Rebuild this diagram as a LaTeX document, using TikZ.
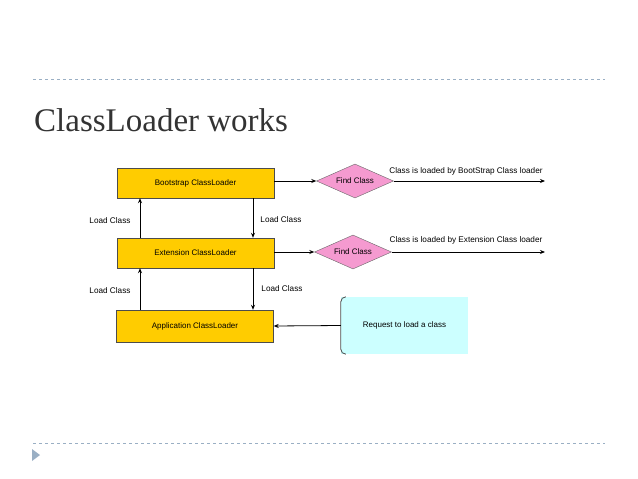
\documentclass[tikz,border=0pt]{standalone}
\usepackage{fontspec}
\setmainfont{Liberation Sans}
\newfontfamily\ttl{Liberation Serif}
\usetikzlibrary{shapes.geometric,arrows.meta}
\definecolor{gold}{HTML}{FFCC00}
\definecolor{pinkd}{HTML}{F59AD0}
\definecolor{cyanb}{HTML}{CCFFFF}
\definecolor{dashc}{HTML}{9AAFC4}
\tikzset{
 ldr/.style={draw=black!70,fill=gold,minimum width=157pt,minimum height=30pt,font=\fontsize{8}{9}\selectfont,inner sep=0},
 fc/.style={diamond,draw=black!60,fill=pinkd,aspect=2.1,minimum width=77pt,minimum height=34pt,inner sep=0,font=\fontsize{8}{9}\selectfont},
 lbl/.style={font=\fontsize{8.2}{9}\selectfont,inner sep=0},
 ar/.style={-{Stealth[length=5pt,width=4pt]},line width=0.8pt}
}
\begin{document}
\begin{tikzpicture}[x=1pt,y=-1pt]
\useasboundingbox (0,0) rectangle (638,479);
\draw[dashc,dashed,line width=0.7pt] (33,79) -- (605,79);
\draw[dashc,dashed,line width=0.7pt] (33,443) -- (605,443);
\fill[dashc] (32,449) -- (40,455) -- (32,461) -- cycle;
\node[anchor=west,font=\ttl\fontsize{33}{36}\selectfont,text=black!80,inner sep=0] (t) at (34,120) {ClassLoader works};
\node[ldr] (b) at (195.5,183) {Bootstrap ClassLoader};
\node[ldr] (e) at (195.5,253) {Extension ClassLoader};
\node[ldr,minimum height=32pt] (a) at (195,326) {Application ClassLoader};
\node[fc] (f1) at (355,181) {Find Class};
\node[fc] (f2) at (353,252) {Find Class};
\coordinate (o1) at (545,181);
\coordinate (o2) at (545,252);
\node[lbl] (t1) at (466,171) {Class is loaded by BootStrap Class loader};
\node[lbl] (t2) at (466,240) {Class is loaded by Extension Class loader};
\node[fill=cyanb,minimum width=127pt,minimum height=57pt,inner sep=0,font=\fontsize{8}{9}\selectfont] (r) at (404.5,325.5) {Request to load a class};
\draw[black!70,line width=0.8pt] ([xshift=5pt]r.north west) to[out=180,in=90] ([yshift=-5pt]r.north west) -- ([yshift=5pt]r.south west) to[out=-90,in=180] ([xshift=5pt]r.south west);
\draw[ar] (b.east|-f1) -- (f1.west);
\draw[ar] (e.east|-f2) -- (f2.west);
\draw[ar] (f1.east) -- (o1);
\draw[ar] (f2.east) -- (o2);
\draw[ar] (r.west) -- (a.east);
\draw[ar] (e.north-|140,0) -- (b.south-|140,0);
\draw[ar] (a.north-|140,0) -- (e.south-|140,0);
\draw[ar] (b.south-|253,0) -- (e.north-|253,0);
\draw[ar] (e.south-|253,0) -- (a.north-|253,0);
\node[lbl] (l1) at (110,221) {Load Class};
\node[lbl] (l2) at (110,291) {Load Class};
\node[lbl] (l3) at (281,220) {Load Class};
\node[lbl] (l4) at (282,289) {Load Class};
\end{tikzpicture}
\end{document}
